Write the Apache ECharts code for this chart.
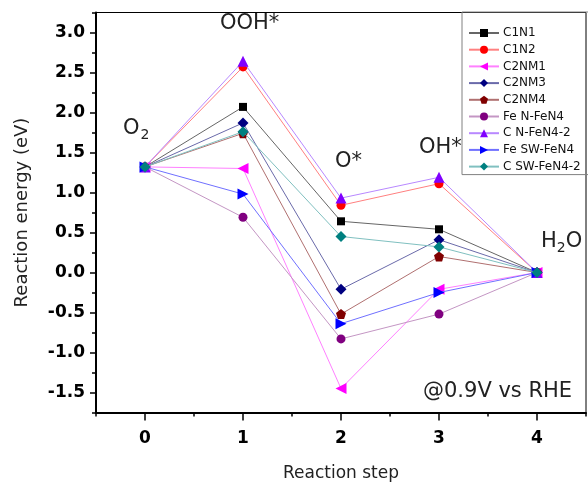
<!DOCTYPE html>
<html>
<head>
<meta charset="utf-8">
<script src="https://cdn.jsdelivr.net/npm/echarts@6/dist/echarts.min.js"></script>
<style>html,body{margin:0;padding:0;background:#fff}#c{width:588px;height:485px}</style>
</head>
<body>
<div id="c"></div>
<script>
// ---- data ----
const steps = [0, 1, 2, 3, 4];
const xTickValues = [0, 1, 2, 3, 4];
const xMinorTickValues = [-0.5, 0.5, 1.5, 2.5, 3.5, 4.5];
const yTickValues = [-1.5, -1.0, -0.5, 0.0, 0.5, 1.0, 1.5, 2.0, 2.5, 3.0];
const yMinorTickValues = [-1.75, -1.25, -0.75, -0.25, 0.25, 0.75, 1.25, 1.75, 2.25, 2.75, 3.25];
const seriesNames = ['C1N1', 'C1N2', 'C2NM1', 'C2NM3', 'C2NM4', 'Fe N-FeN4', 'C N-FeN4-2', 'Fe SW-FeN4', 'C SW-FeN4-2'];
const C1N1 = [1.32, 2.07, 0.64, 0.54, 0];
const C1N2 = [1.32, 2.57, 0.84, 1.11, 0];
const C2NM1 = [1.32, 1.30, -1.45, -0.21, 0];
const C2NM3 = [1.32, 1.87, -0.21, 0.41, 0];
const C2NM4 = [1.32, 1.74, -0.52, 0.20, 0];
const FeN_FeN4 = [1.32, 0.69, -0.83, -0.52, 0];
const CN_FeN4_2 = [1.32, 2.64, 0.93, 1.19, 0];
const FeSW_FeN4 = [1.32, 0.98, -0.64, -0.25, 0];
const CSW_FeN4_2 = [1.32, 1.76, 0.45, 0.32, 0];
const seriesValues = [C1N1, C1N2, C2NM1, C2NM3, C2NM4, FeN_FeN4, CN_FeN4_2, FeSW_FeN4, CSW_FeN4_2];

// ---- styles ----
const pentagon = 'path://M0,-10 L9.51,-3.09 L5.88,8.09 L-5.88,8.09 L-9.51,-3.09 Z';
const styles = [
  {mc: '#000000', lc: '#666666', sym: 'rect', size: 8, rot: 0},
  {mc: '#ff0000', lc: '#ff8080', sym: 'circle', size: 9, rot: 0},
  {mc: '#ff00ff', lc: '#ff80ff', sym: 'triangle', size: 11, rot: 90},
  {mc: '#000080', lc: '#6a6aaa', sym: 'diamond', size: 11, rot: 0},
  {mc: '#800000', lc: '#b07070', sym: pentagon, size: 10, rot: 0},
  {mc: '#800080', lc: '#c496c4', sym: 'circle', size: 9, rot: 0},
  {mc: '#8000ff', lc: '#b888ff', sym: 'triangle', size: 11, rot: 0},
  {mc: '#0000ff', lc: '#7070ff', sym: 'triangle', size: 11, rot: -90},
  {mc: '#008080', lc: '#80c0c0', sym: 'diamond', size: 11, rot: 0}
];
const FONT = '"DejaVu Sans", sans-serif';

const series = seriesNames.map((n, i) => ({
  name: n,
  type: 'line',
  xAxisIndex: 0,
  yAxisIndex: 0,
  data: steps.map((s, k) => [s, seriesValues[i][k]]),
  symbol: styles[i].sym,
  symbolSize: styles[i].size,
  symbolRotate: styles[i].rot,
  itemStyle: {color: styles[i].mc},
  lineStyle: {color: styles[i].lc, width: 1},
  z: 2 + i
}));

const chart = echarts.init(document.getElementById('c'), null, {renderer: 'canvas'});
chart.setOption({
  animation: false,
  backgroundColor: '#fff',
  grid: {left: 96, right: 2, top: 12.5, bottom: 72.5, containLabel: false, outerBoundsMode: 'none', show: true, borderColor: '#000', borderWidth: 1, backgroundColor: 'transparent'},
  legend: {
    data: seriesNames,
    orient: 'vertical',
    left: 462, top: 12,
    padding: [14, 40, 1, 6],
    itemWidth: 30, itemHeight: 10, itemGap: 2.7,
    borderColor: '#808080', borderWidth: 1,
    textStyle: {fontFamily: FONT, fontSize: 12, color: '#111', lineHeight: 14, padding: [0, 0, 0, -1]}
  },
  xAxis: [{
    type: 'value', min: -0.5, max: 4.5, position: 'bottom',
    name: 'Reaction step', nameLocation: 'middle', nameGap: 53,
    nameTextStyle: {fontFamily: FONT, fontSize: 17, color: '#222'},
    axisLine: {show: true, onZero: false, lineStyle: {color: '#000', width: 2}},
    axisTick: {show: true, length: 8, lineStyle: {color: '#000', width: 1.5}, customValues: xTickValues},
    axisLabel: {fontFamily: FONT, fontSize: 17, fontWeight: 'bold', color: '#000', margin: 18, customValues: xTickValues, formatter: v => String(v)},
    splitLine: {show: false}
  }, {
    type: 'value', min: -0.5, max: 4.5, position: 'bottom', gridIndex: 0,
    axisLine: {show: false, onZero: false},
    axisTick: {show: true, length: 4, lineStyle: {color: '#000', width: 1.5}, customValues: xMinorTickValues},
    axisLabel: {show: false},
    splitLine: {show: false}
  }],
  yAxis: [{
    type: 'value', min: -1.75, max: 3.25, position: 'left',
    name: 'Reaction energy (eV)', nameLocation: 'middle', nameGap: 65,
    nameTextStyle: {fontFamily: FONT, fontSize: 18, color: '#222'},
    axisLine: {show: true, onZero: false, lineStyle: {color: '#000', width: 2}},
    axisTick: {show: true, length: 6, lineStyle: {color: '#000', width: 1.5}, customValues: yTickValues},
    axisLabel: {fontFamily: FONT, fontSize: 17, fontWeight: 'bold', color: '#000', margin: 11, customValues: yTickValues, formatter: v => v.toFixed(1)},
    splitLine: {show: false}
  }, {
    type: 'value', min: -1.75, max: 3.25, position: 'left', gridIndex: 0,
    axisLine: {show: false, onZero: false},
    axisTick: {show: true, length: 4, lineStyle: {color: '#000', width: 1.5}, customValues: yMinorTickValues},
    axisLabel: {show: false},
    splitLine: {show: false}
  }],
  graphic: [
    {type: 'text', left: 220, top: 13, style: {text: 'OOH*', font: '21px ' + FONT, fill: '#222'}},
    {type: 'text', left: 123, top: 118, style: {text: 'O{s|2}', font: '21px ' + FONT, fill: '#222', rich: {s: {fontSize: 14, fontFamily: 'DejaVu Sans', verticalAlign: 'bottom', padding: [14, 0, 0, 1], fill: '#222'}}}},
    {type: 'text', left: 335, top: 151, style: {text: 'O*', font: '21px ' + FONT, fill: '#222'}},
    {type: 'text', left: 419, top: 137, style: {text: 'OH*', font: '21px ' + FONT, fill: '#222'}},
    {type: 'text', left: 541, top: 231, style: {text: 'H{s|2}O', font: '21px ' + FONT, fill: '#222', rich: {s: {fontSize: 14, fontFamily: 'DejaVu Sans', verticalAlign: 'bottom', padding: [14, 0, 0, 0], fill: '#222'}}}},
    {type: 'text', left: 423, top: 381, style: {text: '@0.9V vs RHE', font: '21px ' + FONT, fill: '#222'}}
  ],
  series: series
});
</script>
</body>
</html>
